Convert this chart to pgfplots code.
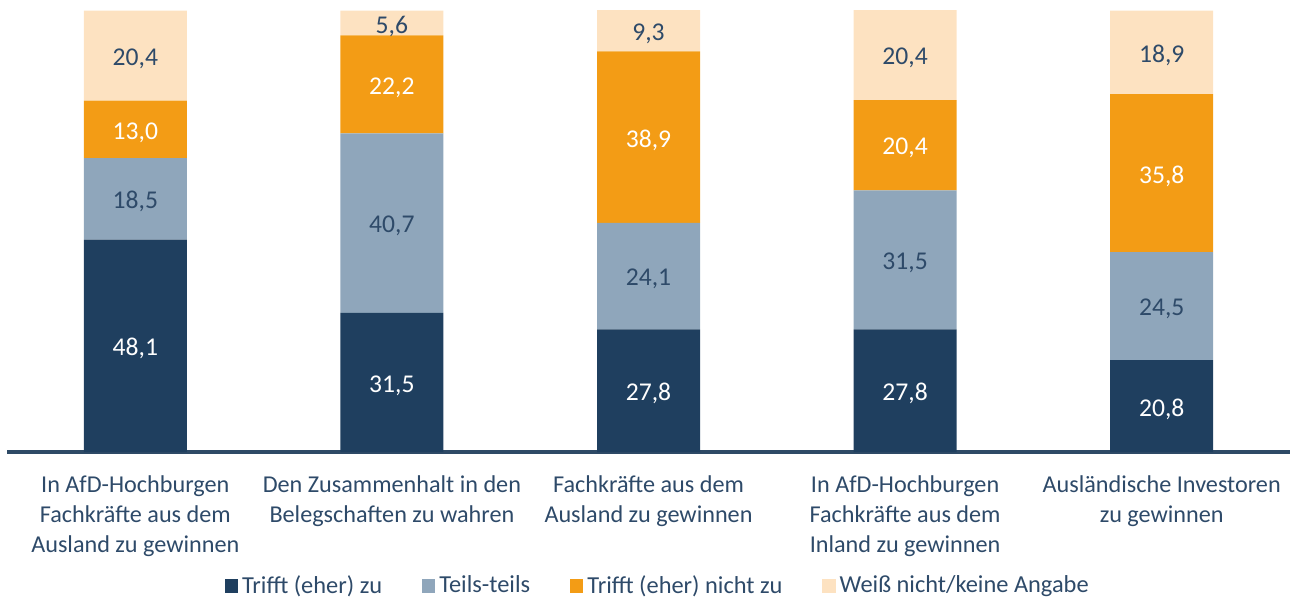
\documentclass[border=0pt]{standalone}
\usepackage{fontspec}
\setmainfont{Carlito}
\usepackage{pgfplots}
\pgfplotsset{compat=1.18}
\definecolor{navy}{HTML}{1F3F5F}
\definecolor{grayblue}{HTML}{8FA6BB}
\definecolor{orng}{HTML}{F39C15}
\definecolor{peach}{HTML}{FDE2C1}
\definecolor{txt}{HTML}{2E4A69}
\definecolor{axisc}{HTML}{2E4A66}
\begin{document}
\begin{tikzpicture}
\path[use as bounding box] (-3.5pt,-73.5pt) rectangle (643.5pt,226pt);
\begin{axis}[
  at={(0pt,0pt)}, anchor=south west,
  scale only axis, width=641.5pt, height=221pt,
  ybar stacked, bar width=51.5pt,
  xmin=-0.5, xmax=4.5, ymin=0, ymax=100.15,
  axis y line=none, axis x line*=bottom,
  x axis line style={draw=axisc, line width=2pt, -},
  xtick=data, major tick length=0pt,
  xticklabels={In AfD-Hochburgen\\Fachkräfte aus dem\\Ausland zu gewinnen,
    Den Zusammenhalt in den\\Belegschaften zu wahren,
    Fachkräfte aus dem\\Ausland zu gewinnen,
    In AfD-Hochburgen\\Fachkräfte aus dem\\Inland zu gewinnen,
    Ausländische Investoren\\zu gewinnen},
  xticklabel style={align=center, font=\fontsize{12.1}{15}\selectfont, text=txt, yshift=-8.5pt},
  point meta=rawy,
  nodes near coords,
  /pgf/number format/.cd, use comma, fixed, fixed zerofill, precision=1, assume math mode=true,
  /pgfplots/.cd,
  every node near coord/.style={anchor=center, yshift=-1.5pt, font=\fontsize{12.8}{15}\selectfont, text=txt},
  legend columns=4,
  legend style={at={(0.508,-0.303)}, anchor=center, draw=none, fill=none,
    font=\fontsize{12.2}{15}\selectfont, text=txt,
    /tikz/every even column/.append style={column sep=18pt},
    legend cell align=left},
  legend image code/.code={\fill[#1] (0pt,-3.3pt) rectangle (6.6pt,3.3pt);},
]
\addplot[fill=navy, draw=none, every node near coord/.append style={text=white}] coordinates {(0,48.1) (1,31.5) (2,27.8) (3,27.8) (4,20.8)};
\addplot[fill=grayblue, draw=none] coordinates {(0,18.5) (1,40.7) (2,24.1) (3,31.5) (4,24.5)};
\addplot[fill=orng, draw=none, every node near coord/.append style={text=white}] coordinates {(0,13.0) (1,22.2) (2,38.9) (3,20.4) (4,35.8)};
\addplot[fill=peach, draw=none] coordinates {(0,20.4) (1,5.6) (2,9.3) (3,20.4) (4,18.9)};
\legend{Trifft (eher) zu, Teils-teils, Trifft (eher) nicht zu, Weiß nicht/keine Angabe}
\end{axis}
\end{tikzpicture}
\end{document}
